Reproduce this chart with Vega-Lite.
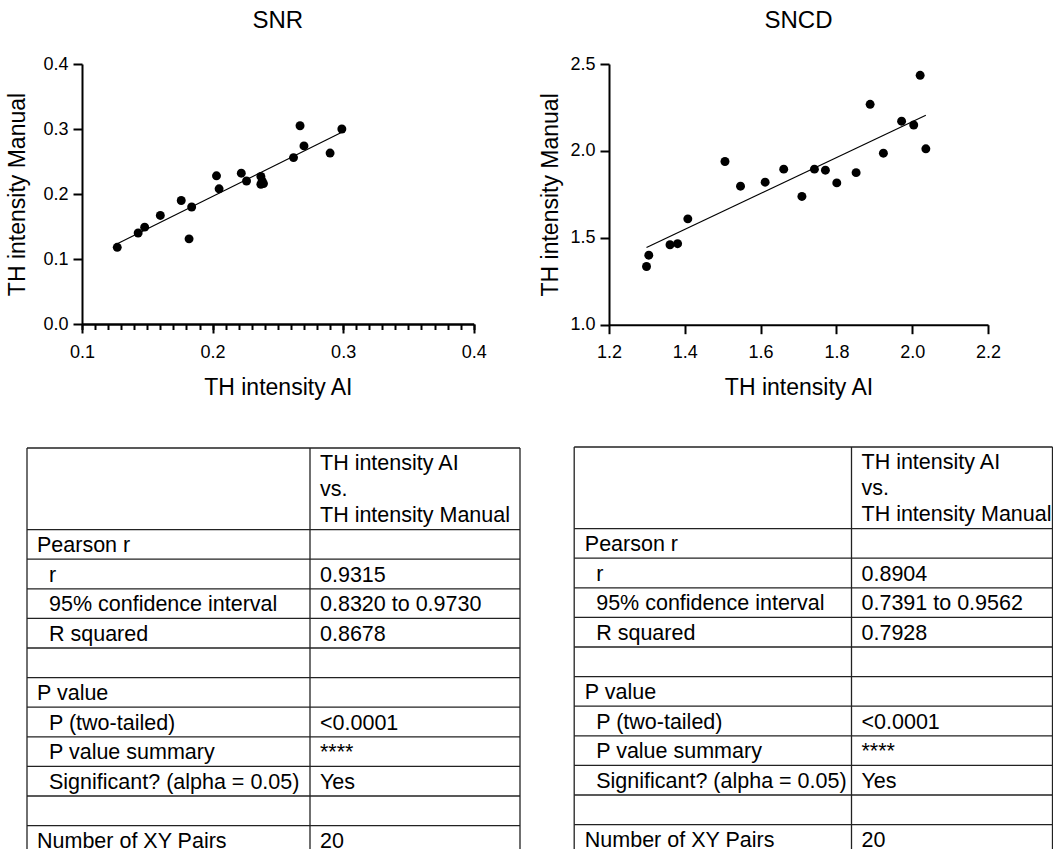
{
  "$schema": "https://vega.github.io/schema/vega-lite/v6.json",
  "background": "white",
  "padding": {"left": 6, "top": 9, "right": 0, "bottom": 0},
  "datasets": {
    "snr": [
      {"ai": 0.127, "manual": 0.118},
      {"ai": 0.143, "manual": 0.140},
      {"ai": 0.148, "manual": 0.149},
      {"ai": 0.160, "manual": 0.167},
      {"ai": 0.176, "manual": 0.190},
      {"ai": 0.182, "manual": 0.131},
      {"ai": 0.184, "manual": 0.180},
      {"ai": 0.203, "manual": 0.228},
      {"ai": 0.205, "manual": 0.208},
      {"ai": 0.222, "manual": 0.232},
      {"ai": 0.226, "manual": 0.220},
      {"ai": 0.237, "manual": 0.227},
      {"ai": 0.237, "manual": 0.215},
      {"ai": 0.239, "manual": 0.216},
      {"ai": 0.238, "manual": 0.220},
      {"ai": 0.262, "manual": 0.256},
      {"ai": 0.267, "manual": 0.305},
      {"ai": 0.270, "manual": 0.274},
      {"ai": 0.290, "manual": 0.263},
      {"ai": 0.299, "manual": 0.300}
    ],
    "sncd": [
      {"ai": 1.299, "manual": 1.335},
      {"ai": 1.305, "manual": 1.400},
      {"ai": 1.361, "manual": 1.460},
      {"ai": 1.381, "manual": 1.466},
      {"ai": 1.408, "manual": 1.609},
      {"ai": 1.506, "manual": 1.939},
      {"ai": 1.547, "manual": 1.797},
      {"ai": 1.612, "manual": 1.820},
      {"ai": 1.661, "manual": 1.895},
      {"ai": 1.709, "manual": 1.738},
      {"ai": 1.742, "manual": 1.895},
      {"ai": 1.771, "manual": 1.889},
      {"ai": 1.801, "manual": 1.816},
      {"ai": 1.852, "manual": 1.875},
      {"ai": 1.889, "manual": 2.268},
      {"ai": 1.924, "manual": 1.987},
      {"ai": 1.972, "manual": 2.171},
      {"ai": 2.004, "manual": 2.149},
      {"ai": 2.021, "manual": 2.435},
      {"ai": 2.036, "manual": 2.012}
    ],
    "t1": [
      {"row": 0, "level": 0, "label": "", "value": "TH intensity AI\nvs.\nTH intensity Manual"},
      {"row": 1, "level": 0, "label": "Pearson r", "value": ""},
      {"row": 2, "level": 1, "label": "r", "value": "0.9315"},
      {"row": 3, "level": 1, "label": "95% confidence interval", "value": "0.8320 to 0.9730"},
      {"row": 4, "level": 1, "label": "R squared", "value": "0.8678"},
      {"row": 5, "level": 0, "label": "", "value": ""},
      {"row": 6, "level": 0, "label": "P value", "value": ""},
      {"row": 7, "level": 1, "label": "P (two-tailed)", "value": "<0.0001"},
      {"row": 8, "level": 1, "label": "P value summary", "value": "****"},
      {"row": 9, "level": 1, "label": "Significant? (alpha = 0.05)", "value": "Yes"},
      {"row": 10, "level": 0, "label": "", "value": ""},
      {"row": 11, "level": 0, "label": "Number of XY Pairs", "value": "20"}
    ],
    "t2": [
      {"row": 0, "level": 0, "label": "", "value": "TH intensity AI\nvs.\nTH intensity Manual"},
      {"row": 1, "level": 0, "label": "Pearson r", "value": ""},
      {"row": 2, "level": 1, "label": "r", "value": "0.8904"},
      {"row": 3, "level": 1, "label": "95% confidence interval", "value": "0.7391 to 0.9562"},
      {"row": 4, "level": 1, "label": "R squared", "value": "0.7928"},
      {"row": 5, "level": 0, "label": "", "value": ""},
      {"row": 6, "level": 0, "label": "P value", "value": ""},
      {"row": 7, "level": 1, "label": "P (two-tailed)", "value": "<0.0001"},
      {"row": 8, "level": 1, "label": "P value summary", "value": "****"},
      {"row": 9, "level": 1, "label": "Significant? (alpha = 0.05)", "value": "Yes"},
      {"row": 10, "level": 0, "label": "", "value": ""},
      {"row": 11, "level": 0, "label": "Number of XY Pairs", "value": "20"}
    ]
  },
  "spacing": 46,
  "vconcat": [
    {
      "spacing": 52,
      "hconcat": [
        {
          "width": 391.7,
          "height": 260,
          "title": {"text": "SNR", "offset": 3, "baseline": "alphabetic"},
          "data": {"name": "snr"},
          "resolve": {"axis": {"x": "independent"}},
          "layer": [
            {
              "mark": {"type": "circle", "size": 80, "color": "black", "opacity": 1},
              "encoding": {
                "x": {
                  "field": "ai", "type": "quantitative", "title": "TH intensity AI",
                  "scale": {"domain": [0.1, 0.4], "nice": false, "zero": false},
                  "axis": {"orient": "bottom", "values": [0.1, 0.2, 0.3, 0.4], "format": ".1f", "tickSize": 9}
                },
                "y": {
                  "field": "manual", "type": "quantitative", "title": "TH intensity Manual",
                  "scale": {"domain": [0, 0.4], "nice": false, "zero": false},
                  "axis": {"values": [0, 0.1, 0.2, 0.3, 0.4], "format": ".1f"}
                }
              }
            },
            {
              "transform": [{"regression": "manual", "on": "ai"}],
              "mark": {"type": "line", "color": "black", "strokeWidth": 1.2},
              "encoding": {
                "x": {
                  "field": "ai", "type": "quantitative", "title": null,
                  "axis": {
                    "orient": "bottom",
                    "values": [0.1,0.11,0.12,0.13,0.14,0.15,0.16,0.17,0.18,0.19,0.2,0.21,0.22,0.23,0.24,0.25,0.26,0.27,0.28,0.29,0.3,0.31,0.32,0.33,0.34,0.35,0.36,0.37,0.38,0.39,0.4],
                    "labels": false, "tickSize": 5.5, "title": null
                  }
                },
                "y": {"field": "manual", "type": "quantitative"}
              }
            }
          ]
        },
        {
          "width": 379,
          "height": 260.7,
          "title": {"text": "SNCD", "offset": 3, "baseline": "alphabetic"},
          "data": {"name": "sncd"},
          "layer": [
            {
              "mark": {"type": "circle", "size": 80, "color": "black", "opacity": 1},
              "encoding": {
                "x": {
                  "field": "ai", "type": "quantitative", "title": "TH intensity AI",
                  "scale": {"domain": [1.2, 2.2], "nice": false, "zero": false},
                  "axis": {"values": [1.2, 1.4, 1.6, 1.8, 2.0, 2.2], "format": ".1f"}
                },
                "y": {
                  "field": "manual", "type": "quantitative", "title": "TH intensity Manual",
                  "scale": {"domain": [1.0, 2.5], "nice": false, "zero": false},
                  "axis": {"values": [1.0, 1.5, 2.0, 2.5], "format": ".1f", "titlePadding": 7}
                }
              }
            },
            {
              "transform": [{"regression": "manual", "on": "ai"}],
              "mark": {"type": "line", "color": "black", "strokeWidth": 1.2},
              "encoding": {
                "x": {"field": "ai", "type": "quantitative"},
                "y": {"field": "manual", "type": "quantitative"}
              }
            }
          ]
        }
      ]
    },
    {
      "spacing": 0,
      "hconcat": [
        {
          "width": 438,
          "height": 401,
          "data": {"name": "t1"},
          "layer": [
            {
              "mark": {"type": "rule", "color": "#222", "strokeWidth": 1.3},
              "encoding": {
                "y": {"field": "row", "type": "quantitative", "scale": {"domain": [0, 1, 12], "range": [0, 81.6, 407.2], "nice": false, "zero": false}, "axis": null},
                "x": {"datum": 0, "type": "quantitative", "scale": {"domain": [0, 1, 2], "range": [-55, 228, 438], "nice": false, "zero": false}, "axis": null},
                "x2": {"datum": 2}
              }
            },
            {
              "data": {"values": [{"edge": 0}, {"edge": 1}, {"edge": 2}]},
              "mark": {"type": "rule", "color": "#222", "strokeWidth": 1.3},
              "encoding": {
                "x": {"field": "edge", "type": "quantitative", "axis": null},
                "y": {"datum": 0, "type": "quantitative", "axis": null},
                "y2": {"datum": 12}
              }
            },
            {
              "transform": [{"filter": "datum.level == 0"}],
              "mark": {"type": "text", "align": "left", "baseline": "alphabetic", "dx": 10, "dy": 22.6, "fontSize": 21.5, "font": "Liberation Sans", "color": "black"},
              "encoding": {
                "x": {"datum": 0, "type": "quantitative"},
                "y": {"field": "row", "type": "quantitative"},
                "text": {"field": "label"}
              }
            },
            {
              "transform": [{"filter": "datum.level == 1"}],
              "mark": {"type": "text", "align": "left", "baseline": "alphabetic", "dx": 22, "dy": 22.6, "fontSize": 21.5, "font": "Liberation Sans", "color": "black"},
              "encoding": {
                "x": {"datum": 0, "type": "quantitative"},
                "y": {"field": "row", "type": "quantitative"},
                "text": {"field": "label"}
              }
            },
            {
              "mark": {"type": "text", "align": "left", "baseline": "alphabetic", "dx": 10, "dy": 22.4, "fontSize": 21.5, "font": "Liberation Sans", "color": "black", "lineBreak": "\n", "lineHeight": 26},
              "encoding": {
                "x": {"datum": 1, "type": "quantitative"},
                "y": {"field": "row", "type": "quantitative"},
                "text": {"field": "value"}
              }
            }
          ]
        },
        {
          "width": 533,
          "height": 401,
          "data": {"name": "t2"},
          "layer": [
            {
              "mark": {"type": "rule", "color": "#222", "strokeWidth": 1.3},
              "encoding": {
                "y": {"field": "row", "type": "quantitative", "scale": {"domain": [0, 1, 12], "range": [-1, 80.6, 406.2], "nice": false, "zero": false}, "axis": null},
                "x": {"datum": 0, "type": "quantitative", "scale": {"domain": [0, 1, 2], "range": [53.2, 330.5, 531.5], "nice": false, "zero": false}, "axis": null},
                "x2": {"datum": 2}
              }
            },
            {
              "data": {"values": [{"edge": 0}, {"edge": 1}, {"edge": 2}]},
              "mark": {"type": "rule", "color": "#222", "strokeWidth": 1.3},
              "encoding": {
                "x": {"field": "edge", "type": "quantitative", "axis": null},
                "y": {"datum": 0, "type": "quantitative", "axis": null},
                "y2": {"datum": 12}
              }
            },
            {
              "transform": [{"filter": "datum.level == 0"}],
              "mark": {"type": "text", "align": "left", "baseline": "alphabetic", "dx": 10.6, "dy": 22.6, "fontSize": 21.5, "font": "Liberation Sans", "color": "black"},
              "encoding": {
                "x": {"datum": 0, "type": "quantitative"},
                "y": {"field": "row", "type": "quantitative"},
                "text": {"field": "label"}
              }
            },
            {
              "transform": [{"filter": "datum.level == 1"}],
              "mark": {"type": "text", "align": "left", "baseline": "alphabetic", "dx": 22, "dy": 22.6, "fontSize": 21.5, "font": "Liberation Sans", "color": "black"},
              "encoding": {
                "x": {"datum": 0, "type": "quantitative"},
                "y": {"field": "row", "type": "quantitative"},
                "text": {"field": "label"}
              }
            },
            {
              "mark": {"type": "text", "align": "left", "baseline": "alphabetic", "dx": 10, "dy": 22.4, "fontSize": 21.5, "font": "Liberation Sans", "color": "black", "lineBreak": "\n", "lineHeight": 26},
              "encoding": {
                "x": {"datum": 1, "type": "quantitative"},
                "y": {"field": "row", "type": "quantitative"},
                "text": {"field": "value"}
              }
            }
          ]
        }
      ]
    }
  ],
  "config": {
    "font": "Liberation Sans",
    "view": {"stroke": null},
    "axis": {
      "grid": false,
      "domainColor": "black",
      "domainWidth": 2,
      "tickColor": "black",
      "tickWidth": 2,
      "tickSize": 9,
      "labelPadding": 5,
      "labelFont": "Liberation Sans",
      "labelFontSize": 18,
      "labelColor": "black",
      "labelFlush": false,
      "labelOverlap": false,
      "titleFont": "Liberation Sans",
      "titleFontSize": 23,
      "titleFontWeight": "normal",
      "titleColor": "black"
    },
    "axisY": {"titlePadding": 13},
    "axisX": {"titlePadding": 15, "labelPadding": 10},
    "title": {"font": "Liberation Sans", "fontSize": 24, "fontWeight": "normal", "color": "black", "anchor": "middle", "frame": "group"}
  }
}
